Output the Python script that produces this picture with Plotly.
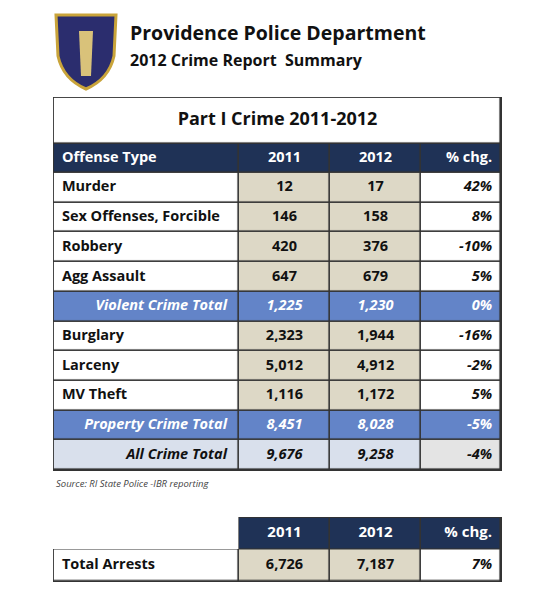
import plotly.graph_objects as go

title = "Part I Crime 2011-2012"
headers = ["Offense Type", "2011", "2012", "% chg."]
offenses = ["Murder", "Sex Offenses, Forcible", "Robbery", "Agg Assault", "Violent Crime Total",
            "Burglary", "Larceny", "MV Theft", "Property Crime Total", "All Crime Total"]
v2011 = [12, 146, 420, 647, 1225, 2323, 5012, 1116, 8451, 9676]
v2012 = [17, 158, 376, 679, 1230, 1944, 4912, 1172, 8028, 9258]
pct = [42, 8, -10, 5, 0, -16, -2, 5, -5, -4]
kinds = ["n", "n", "n", "n", "sub", "n", "n", "n", "sub", "all"]
arrest_label = "Total Arrests"
arrests = [6726, 7187]
arrest_pct = 7

PAL = ["#ffffff", "#ddd8c6", "#1f3256", "#6384c8", "#d9e0ec", "#e4e4e4"]
CSCALE = [[i / 5, c] for i, c in enumerate(PAL)]
LINE = "#333333"
FONT = "Open Sans"
W, H = 550, 600
OFF = 7
def px(x): return (x - OFF) / W
def py(y): return 1 - (y - OFF) / H

col_edges = [0, 185, 276, 367, 447]
TITLE_H, HEAD_H, ROW_H = 46, 29, 29.7
row_edges = [TITLE_H, TITLE_H + HEAD_H]
for _ in offenses:
    row_edges.append(row_edges[-1] + ROW_H)
total_h = row_edges[-1]

def cell_code(k, c):
    if k == "sub": return 3
    if k == "all": return 4 if c < 3 else 5
    return 0 if c in (0, 3) else 1

z = [[2, 2, 2, 2]] + [[cell_code(k, c) for c in range(4)] for k in kinds]

fig = go.Figure()
hm = dict(colorscale=CSCALE, zmin=0, zmax=5, showscale=False, xgap=1.6, ygap=1.6, hoverinfo="skip")
fig.add_trace(go.Heatmap(x=[0, 447], y=[0, TITLE_H], z=[[0]], **hm))
fig.add_trace(go.Heatmap(x=col_edges, y=row_edges, z=z, **hm))

tx, ty, tt, tp, tc = [], [], [], [], []
mids = [(row_edges[i] + row_edges[i + 1]) / 2 for i in range(len(row_edges) - 1)]
def add(x, y, t, pos, col):
    tx.append(x); ty.append(y); tt.append(t); tp.append(pos); tc.append(col)
add(8, mids[0], f"<b>{headers[0]}</b>", "middle right", "white")
add((185 + 276) / 2, mids[0], f"<b>{headers[1]}</b>", "middle center", "white")
add((276 + 367) / 2, mids[0], f"<b>{headers[2]}</b>", "middle center", "white")
add(447 - 9, mids[0], f"<b>{headers[3]}</b>", "middle left", "white")
for i, (o, a, b, p, k) in enumerate(zip(offenses, v2011, v2012, pct, kinds)):
    y = mids[i + 1]
    col = "white" if k == "sub" else "#111111"
    w = (lambda s: f"<b><i>{s}</i></b>") if k != "n" else (lambda s: f"<b>{s}</b>")
    if k == "n":
        add(8, y, w(o), "middle right", col)
    else:
        add(185 - 12, y, w(o), "middle left", col)
    add((185 + 276) / 2, y, w(f"{a:,}"), "middle center", col)
    add((276 + 367) / 2, y, w(f"{b:,}"), "middle center", col)
    add(447 - 9, y, f"<b><i>{p}%</i></b>", "middle left", col)
fig.add_trace(go.Scatter(x=tx, y=ty, text=tt, mode="text", textposition=tp,
                         textfont=dict(family=FONT, size=14.5, color=tc), hoverinfo="skip", showlegend=False))
fig.add_trace(go.Scatter(x=[223.5], y=[TITLE_H / 2], text=[f"<b>{title}</b>"], mode="text",
                         textfont=dict(family=FONT, size=18, color="#111"), hoverinfo="skip", showlegend=False))

a_rows = [0, 31, 62]
fig.add_trace(go.Heatmap(x=col_edges[1:], y=a_rows[:2], z=[[2, 2, 2]], xaxis="x2", yaxis="y2", **hm))
fig.add_trace(go.Heatmap(x=col_edges, y=a_rows[1:], z=[[0, 1, 1, 0]], xaxis="x2", yaxis="y2", **hm))
fig.add_trace(go.Scatter(
    x=[(185 + 276) / 2, (276 + 367) / 2, 447 - 9, 8, (185 + 276) / 2, (276 + 367) / 2, 447 - 9],
    y=[15.5] * 3 + [46.5] * 4,
    text=["<b>2011</b>", "<b>2012</b>", "<b>% chg.</b>", f"<b>{arrest_label}</b>",
          f"<b>{arrests[0]:,}</b>", f"<b>{arrests[1]:,}</b>", f"<b><i>{arrest_pct}%</i></b>"],
    mode="text",
    textposition=["middle center", "middle center", "middle left", "middle right",
                  "middle center", "middle center", "middle left"],
    textfont=dict(family=FONT, size=[15] * 3 + [14.5] * 4, color=["white"] * 3 + ["#111"] * 4),
    xaxis="x2", yaxis="y2", hoverinfo="skip", showlegend=False))

ax = dict(visible=False, showgrid=False, zeroline=False, fixedrange=True)
fig.update_layout(
    xaxis=dict(domain=[px(52), px(501)], range=[-0.9, 447.9], **ax),
    yaxis=dict(domain=[py(470), py(96)], range=[total_h + 0.9, -0.9], **ax),
    xaxis2=dict(domain=[px(52), px(501)], range=[-0.9, 447.9], **ax),
    yaxis2=dict(domain=[py(581), py(516)], range=[62.9, -0.9], **ax),
    plot_bgcolor=LINE, paper_bgcolor="white",
    width=W, height=H, margin=dict(l=0, r=0, t=0, b=0), showlegend=False)

fig.add_shape(type="rect", xref="x2", yref="y2", x0=-3, x1=184.4, y0=-3, y1=30.4,
              fillcolor="white", line=dict(width=0), layer="above")

fig.add_annotation(xref="paper", yref="paper", x=px(53), y=py(482), xanchor="left", yanchor="middle",
                   showarrow=False, text="<i>Source: RI State Police -IBR reporting</i>",
                   font=dict(family=FONT, size=9.5, color="#444"))
fig.add_annotation(xref="paper", yref="paper", x=px(127), y=py(32), xanchor="left", yanchor="middle",
                   showarrow=False, text="<b>Providence Police Department</b>",
                   font=dict(family=FONT, size=19.5, color="#111"))
fig.add_annotation(xref="paper", yref="paper", x=px(127), y=py(59), xanchor="left", yanchor="middle",
                   showarrow=False, text="<b>2012 Crime Report  Summary</b>",
                   font=dict(family=FONT, size=16, color="#111"))
fig.add_shape(type="path", xref="paper", yref="paper",
              path=f"M {px(55)},{py(14)} L {px(115)},{py(14)} L {px(113)},{py(55)} Q {px(108)},{py(78)} {px(85)},{py(88)} Q {px(62)},{py(78)} {px(57)},{py(55)} Z",
              fillcolor="#2b2d6e", line=dict(color="#c9a43a", width=3))
fig.add_shape(type="path", xref="paper", yref="paper",
              path=f"M {px(78)},{py(30)} L {px(92)},{py(30)} L {px(90)},{py(75)} L {px(80)},{py(75)} Z",
              fillcolor="#d9c27a", line=dict(width=0))
fig.write_html("out.html")
